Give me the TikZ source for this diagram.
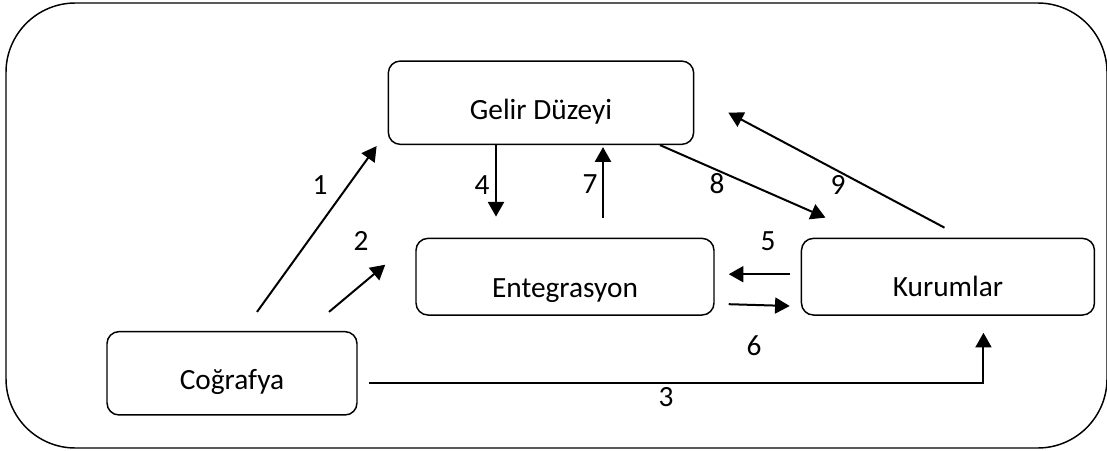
\documentclass[tikz,border=0pt]{standalone}
\usepackage{fontspec}
\setmainfont{Carlito}
\usetikzlibrary{arrows.meta,positioning}
\newcommand{\boxtext}[2]{\raisebox{-#1}[0pt][0pt]{#2}}

\begin{document}
\begin{tikzpicture}[x=0.75pt, y=-0.75pt,
    every node/.style={font=\fontsize{22}{26}\selectfont},
    box/.style={draw, rounded corners=9pt, line width=1.1pt, inner sep=0pt, align=center},
    arr/.style={-{Triangle[length=11pt, width=12pt]}, line width=1.5pt},
    num/.style={inner sep=0pt}]
    \useasboundingbox (0,0) rectangle (1107,450);
    % Frame
    \draw[line width=1.1pt, rounded corners=52pt] (6,3) rectangle (1107,448);

    % Boxes
    \node[box, minimum width=229pt, minimum height=62.5pt] (gelir) at (541,102.7) {\boxtext{12.4pt}{Gelir Düzeyi}};
    \node[box, minimum width=223.5pt, minimum height=57.5pt] (ent) at (565,276.7) {\boxtext{15.5pt}{Entegrasyon}};
    \node[box, minimum width=219.75pt, minimum height=57.5pt, right=64.5pt of ent] (kur) {\boxtext{15.2pt}{Kurumlar}};
    \node[box, minimum width=187.5pt, minimum height=62.5pt] (cog) at (232,373.3) {\boxtext{12.5pt}{Coğrafya}};

    % Arrows
    \draw[arr] ([shift={(25,-19)}]cog.north) -- ([shift={(-11,1)}]gelir.south west);
    \draw[arr] ([shift={(97,-19)}]cog.north) -- ([shift={(-30,-12)}]ent.west);
    \draw[arr] ([shift={(11,10)}]cog.east) -| ([shift={(35.5,17)}]kur.south);
    \draw[arr] ([shift={(-45,0)}]gelir.south) -- ([shift={(-69,-21)}]ent.north);
    \draw[arr] ([shift={(38,-20)}]ent.north) -- ([shift={(62,2)}]gelir.south);
    \draw[arr] ([shift={(119,0)}]gelir.south) -- ([shift={(-122.5,-20)}]kur.north);
    \draw[arr] ([shift={(-3.5,-10)}]kur.north) -- ([shift={(34,10)}]gelir.east);
    \draw[arr] ([shift={(-11,-2.5)}]kur.west) -- ([shift={(14,-2.5)}]ent.east);
    \draw[arr] ([shift={(14,27.5)}]ent.east) -- ([shift={(-11,29.3)}]kur.west);

    % Numbers
    \node[num] (n1) at (320,185) {1};
    \node[num] (n2) at (361,241) {2};
    \node[num] (n3) at (666,397) {3};
    \node[num] (n4) at (482,185) {4};
    \node[num] (n5) at (768,241) {5};
    \node[num] (n6) at (754,346) {6};
    \node[num] (n7) at (590,184) {7};
    \node[num] (n8) at (717,184) {8};
    \node[num] (n9) at (838,185) {9};
\end{tikzpicture}
\end{document}
